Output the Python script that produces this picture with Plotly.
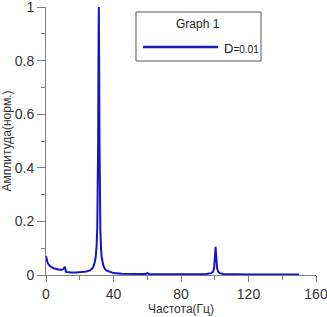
import plotly.graph_objects as go

freq = [0, 0.5, 1, 2, 3, 4, 5, 6, 7, 8, 9, 10, 10.8, 11.2, 11.5, 11.8, 12.3, 13, 15, 18, 20, 22, 24, 26, 27, 28, 29, 29.5, 30, 30.4, 30.7, 30.9, 31.1, 31.3, 31.5, 31.7, 31.9, 32.2, 32.6, 33, 34, 35, 36, 38, 40, 45, 50, 55, 59, 60, 61, 65, 70, 80, 90, 95, 98, 99, 99.6, 100, 100.3, 100.5, 100.7, 101, 101.4, 102, 103, 105, 110, 120, 130, 140, 150]
amp = [0.071, 0.055, 0.045, 0.035, 0.030, 0.027, 0.024, 0.022, 0.021, 0.020, 0.020, 0.021, 0.026, 0.031, 0.022, 0.012, 0.011, 0.010, 0.009, 0.009, 0.010, 0.011, 0.013, 0.017, 0.021, 0.030, 0.050, 0.070, 0.110, 0.180, 0.300, 0.500, 0.800, 1.000, 0.800, 0.500, 0.300, 0.170, 0.100, 0.065, 0.035, 0.022, 0.016, 0.010, 0.007, 0.005, 0.004, 0.004, 0.004, 0.007, 0.004, 0.003, 0.003, 0.003, 0.003, 0.004, 0.007, 0.012, 0.025, 0.050, 0.085, 0.105, 0.085, 0.050, 0.025, 0.012, 0.007, 0.004, 0.003, 0.002, 0.002, 0.002, 0.002]

x_ticks = [0, 40, 80, 120, 160]
x_tick_labels = ["0", "40", "80", "120", "160"]
y_ticks = [0, 0.2, 0.4, 0.6, 0.8, 1.0]
y_tick_labels = ["0", "0.2", "0.4", "0.6", "0.8", "1"]

x_title = "Частота(Гц)"
y_title = "Амплитуда(норм.)"
legend_title = "Graph 1"
series_label = "D<span style='font-size:10px'>=0.01</span>"

FONT = "Liberation Sans, Arial, sans-serif"
LINE_COLOR = "#1414c8"

fig = go.Figure()
fig.add_trace(go.Scatter(x=freq, y=amp, mode="lines", name="D=0.01", showlegend=False,
                         line=dict(color=LINE_COLOR, width=2)))

axis_common = dict(
    showgrid=False, zeroline=False, showline=True, linecolor="#808080", linewidth=1,
    ticks="outside", tickcolor="#808080", tickwidth=1,
    tickfont=dict(family=FONT, size=14, color="#333333"),
    tickmode="array", ticklabeloverflow="allow",
)

fig.update_xaxes(range=[0, 160], tickvals=x_ticks, ticktext=x_tick_labels, ticklen=6,
                 minor=dict(ticks="outside", tickmode="linear", tick0=0, dtick=20, ticklen=4, tickcolor="#808080"),
                 title=dict(text=x_title, standoff=2,
                            font=dict(family=FONT, size=12, color="#333333")),
                 **axis_common)
fig.update_yaxes(range=[0, 1], tickvals=y_ticks, ticktext=y_tick_labels, ticklen=8,
                 minor=dict(ticks="outside", tickmode="linear", tick0=0, dtick=0.1, ticklen=4, tickcolor="#808080"),
                 title=dict(text=y_title, standoff=4,
                            font=dict(family=FONT, size=12, color="#333333")),
                 **axis_common)

# legend box drawn by hand (paper coordinates of the plot area)
fig.add_shape(type="rect", xref="paper", yref="paper", x0=0.3333, x1=0.7963, y0=0.7985, y1=0.9813,
              line=dict(color="#555555", width=1), fillcolor="white", layer="above")
fig.add_shape(type="line", xref="paper", yref="paper", x0=0.3593, x1=0.637, y0=0.8507, y1=0.8507,
              line=dict(color="#1c1cb4", width=2.5), layer="above")
fig.add_annotation(xref="paper", yref="paper", x=0.563, y=0.9366, text=legend_title, showarrow=False,
                   xanchor="center", yanchor="middle", font=dict(family=FONT, size=12, color="#222222"))
fig.add_annotation(xref="paper", yref="paper", x=0.650, y=0.846, text=series_label, showarrow=False,
                   xanchor="left", yanchor="middle", font=dict(family=FONT, size=13, color="#222222"))

fig.update_layout(
    width=327, height=317,
    margin=dict(l=46, r=11, t=7, b=42, autoexpand=False),
    paper_bgcolor="white", plot_bgcolor="white",
    showlegend=False,
)

fig.write_html("out.html", config={"displayModeBar": False},
               post_script="document.body.style.margin='0';document.body.style.padding='0';")
